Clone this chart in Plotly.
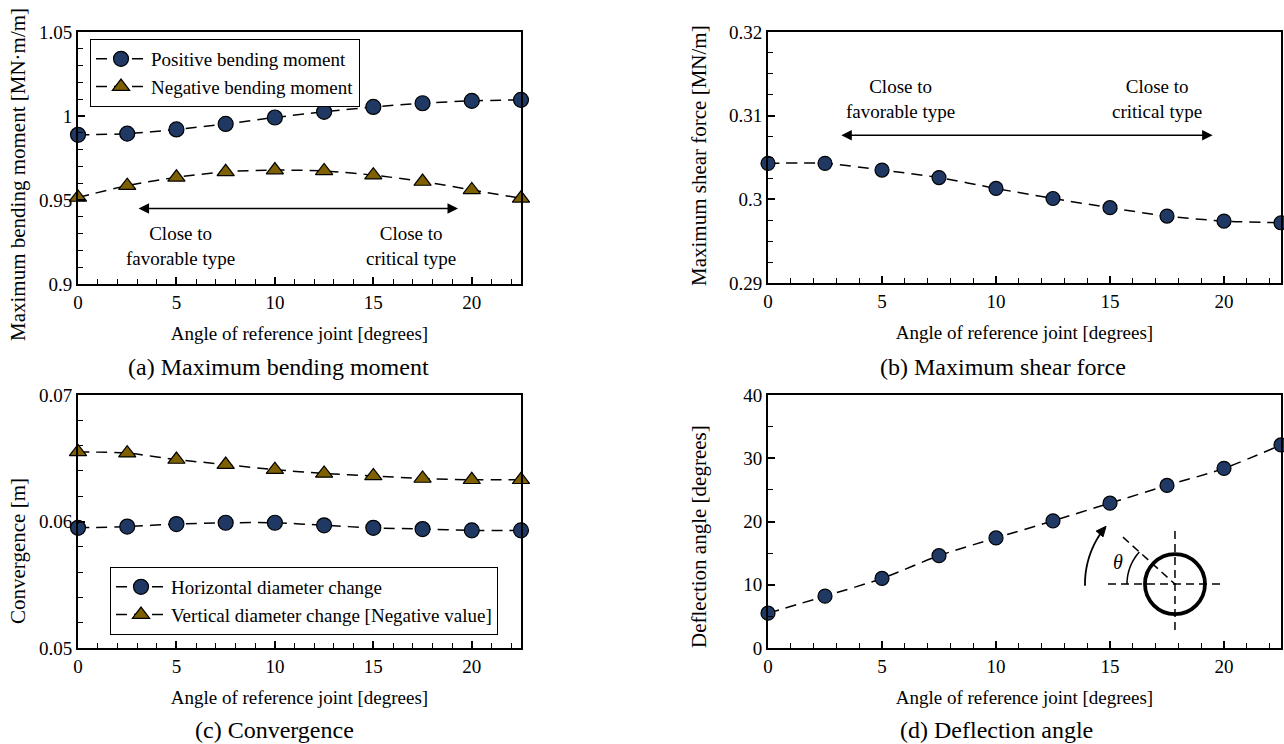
import numpy as np
import plotly.graph_objects as go

# ---------------- data ----------------
angles = [0, 2.5, 5, 7.5, 10, 12.5, 15, 17.5, 20, 22.5]
pos_moment = [0.9888, 0.9895, 0.9920, 0.9953, 0.9991, 1.0025, 1.0054, 1.0076, 1.0090, 1.0096]
neg_moment = [0.9515, 0.9585, 0.9635, 0.9668, 0.9678, 0.9673, 0.9648, 0.9610, 0.9560, 0.9510]
shear_force = [0.3043, 0.3043, 0.3035, 0.3026, 0.3013, 0.3001, 0.2990, 0.2980, 0.2974, 0.2972]
horiz_change = [0.0595, 0.0596, 0.0598, 0.0599, 0.0599, 0.0597, 0.0595, 0.0594, 0.0593, 0.0593]
vert_change = [0.0655, 0.0654, 0.0649, 0.0645, 0.0641, 0.0638, 0.0636, 0.0634, 0.0633, 0.0633]
deflection = [5.5, 8.2, 11.0, 14.6, 17.4, 20.1, 22.9, 25.7, 28.4, 32.1]

x_ticks = [0, 5, 10, 15, 20]
x_title = "Angle of reference joint [degrees]"

# ---------------- styling ----------------
W, H = 1284, 744
FONT = "Liberation Serif, Times New Roman, serif"
NAVY = "#1F3864"
OLIVE = "#7F6000"
LINE = dict(color="black", width=1.5, dash="11px,7px", shape="spline", smoothing=0.8)


def xdom(p0, p1):
    return [p0 / W, p1 / W]


def ydom(top, bottom):
    return [1 - bottom / H, 1 - top / H]


fig = go.Figure()


def circle_marker(size):
    return dict(symbol="circle", size=size, color=NAVY, line=dict(color="black", width=1.2))


def tri_marker(size):
    return dict(symbol="triangle-up", size=size, color=OLIVE, line=dict(color="black", width=1.2))


# (a)
fig.add_trace(go.Scatter(x=angles, y=pos_moment, mode="lines+markers", name="Positive bending moment",
                         line=LINE, marker=circle_marker(15), xaxis="x", yaxis="y", legend="legend",
                         cliponaxis=False))
fig.add_trace(go.Scatter(x=angles, y=neg_moment, mode="lines+markers", name="Negative bending moment",
                         line=LINE, marker=tri_marker(15), xaxis="x", yaxis="y", legend="legend",
                         cliponaxis=False))
# (b)
fig.add_trace(go.Scatter(x=angles, y=shear_force, mode="lines+markers", name="Shear force",
                         line=LINE, marker=circle_marker(14), xaxis="x2", yaxis="y2", showlegend=False,
                         cliponaxis=False))
# (c)
fig.add_trace(go.Scatter(x=angles, y=horiz_change, mode="lines+markers", name="Horizontal diameter change",
                         line=LINE, marker=circle_marker(15), xaxis="x3", yaxis="y3", legend="legend2",
                         cliponaxis=False))
fig.add_trace(go.Scatter(x=angles, y=vert_change, mode="lines+markers",
                         name="Vertical diameter change [Negative value]",
                         line=LINE, marker=tri_marker(15), xaxis="x3", yaxis="y3", legend="legend2",
                         cliponaxis=False))
# (d)
fig.add_trace(go.Scatter(x=angles, y=deflection, mode="lines+markers", name="Deflection angle",
                         line=LINE, marker=circle_marker(14), xaxis="x4", yaxis="y4", showlegend=False,
                         cliponaxis=False))

tickfont = dict(family=FONT, size=19, color="black")
xtitlefont = dict(family=FONT, size=19, color="black")


def xaxis(domain, anchor):
    return dict(domain=domain, anchor=anchor, range=[0, 22.5], tickvals=x_ticks,
                ticks="inside", ticklen=7, tickwidth=1.5, tickcolor="black",
                minor=dict(ticks="inside", dtick=1, tick0=0, ticklen=5, tickwidth=1.2, tickcolor="black"),
                showline=True, linewidth=2, linecolor="black", mirror=True,
                showgrid=False, zeroline=False, tickfont=tickfont,
                title=dict(text=x_title, font=xtitlefont, standoff=15), automargin=False)


def yaxis(domain, anchor, rng, dtick, minor):
    return dict(domain=domain, anchor=anchor, range=rng, dtick=dtick, tick0=rng[0],
                ticks="inside", ticklen=7, tickwidth=1.5, tickcolor="black",
                minor=dict(ticks="inside", dtick=minor, tick0=rng[0], ticklen=5, tickwidth=1.2,
                           tickcolor="black"),
                showline=True, linewidth=2, linecolor="black", mirror=True,
                showgrid=False, zeroline=False, tickfont=tickfont, automargin=False)


dom_a_x, dom_a_y = xdom(78, 521), ydom(32, 284)
dom_b_x, dom_b_y = xdom(768, 1281), ydom(32, 283)
dom_c_x, dom_c_y = xdom(78, 521), ydom(395, 648)
dom_d_x, dom_d_y = xdom(768, 1281), ydom(395, 648)

fig.update_layout(
    xaxis=xaxis(dom_a_x, "y"),
    yaxis=yaxis(dom_a_y, "x", [0.9, 1.05], 0.05, 0.01),
    xaxis2=xaxis(dom_b_x, "y2"),
    yaxis2=yaxis(dom_b_y, "x2", [0.29, 0.32], 0.01, 0.0025),
    xaxis3=xaxis(dom_c_x, "y3"),
    yaxis3=yaxis(dom_c_y, "x3", [0.05, 0.07], 0.01, 0.002),
    xaxis4=xaxis(dom_d_x, "y4"),
    yaxis4=yaxis(dom_d_y, "x4", [0, 40], 10, 5),
)

legend_style = dict(bgcolor="white", bordercolor="black", borderwidth=1,
                    font=dict(family=FONT, size=19, color="black"),
                    xanchor="left", yanchor="top", tracegroupgap=0, itemwidth=50)
fig.update_layout(
    legend=dict(x=90 / W, y=1 - 39 / H, **legend_style),
    legend2=dict(x=110 / W, y=1 - 567 / H, **legend_style),
)

ann_font = dict(family=FONT, size=19, color="black")
annotations = []

# y-axis titles
for text, xpix, ypix in [("Maximum bending moment [MN·m/m]", 18, 175),
                         ("Maximum shear force [MN/m]", 699, 156),
                         ("Convergence [m]", 18, 551),
                         ("Deflection angle [degrees]", 699, 537)]:
    annotations.append(dict(text=text, x=xpix / W, y=1 - ypix / H, xref="paper", yref="paper",
                            textangle=-90, showarrow=False, xanchor="center", yanchor="middle",
                            font=dict(family=FONT, size=21, color="black")))

# captions
for text, xpix, ypix in [("(a) Maximum bending moment", 278, 367),
                         ("(b) Maximum shear force", 1003, 367),
                         ("(c) Convergence", 274, 730),
                         ("(d) Deflection angle", 997, 730)]:
    annotations.append(dict(text=text, x=xpix / W, y=1 - ypix / H, xref="paper", yref="paper",
                            showarrow=False, font=dict(family=FONT, size=24, color="black"),
                            xanchor="center", yanchor="middle"))

# panel (a) notes
annotations += [
    dict(text="Close to<br>favorable type", x=5.2, y=0.9225, xref="x", yref="y", showarrow=False,
         font=ann_font, align="center"),
    dict(text="Close to<br>critical type", x=16.9, y=0.9225, xref="x", yref="y", showarrow=False,
         font=ann_font, align="center"),
    dict(text="", x=19.3, y=0.945, ax=3.0, ay=0.945, xref="x", yref="y", axref="x", ayref="y",
         showarrow=True, arrowhead=2, startarrowhead=2, arrowside="end+start", arrowsize=1.4,
         startarrowsize=1.4, arrowwidth=1.5, arrowcolor="black"),
]
# panel (b) notes
annotations += [
    dict(text="Close to<br>favorable type", x=5.8, y=0.3120, xref="x2", yref="y2", showarrow=False,
         font=ann_font, align="center"),
    dict(text="Close to<br>critical type", x=17.05, y=0.3120, xref="x2", yref="y2", showarrow=False,
         font=ann_font, align="center"),
    dict(text="", x=19.5, y=0.30765, ax=3.15, ay=0.30765, xref="x2", yref="y2", axref="x2", ayref="y2",
         showarrow=True, arrowhead=2, startarrowhead=2, arrowside="end+start", arrowsize=1.4,
         startarrowsize=1.4, arrowwidth=1.5, arrowcolor="black"),
]

# panel (d) inset: ring with axes, angle theta and rotation arrow
cx, cy = 17.85, 10.1
annotations.append(dict(text="<i>θ</i>", x=cx, y=cy, xref="x4", yref="y4", xshift=-57, yshift=22,
                        showarrow=False, font=dict(family=FONT, size=20, color="black")))
fig.update_layout(annotations=annotations)


def pix_path(points):
    return "M" + " L".join(f"{px:.2f},{py:.2f}" for px, py in points)


def arc(r, a0, a1, n=30):
    t = np.radians(np.linspace(a0, a1, n))
    return list(zip(r * np.cos(t), r * np.sin(t)))


inset = dict(xref="x4", yref="y4", xsizemode="pixel", ysizemode="pixel", xanchor=cx, yanchor=cy)
shapes = [
    dict(type="circle", x0=-30, x1=30, y0=-30, y1=30, line=dict(color="black", width=3.8), **inset),
    dict(type="line", x0=-67, x1=48, y0=0, y1=0, line=dict(color="black", width=1.5, dash="8px,5px"), **inset),
    dict(type="line", x0=0, x1=0, y0=53, y1=-46, line=dict(color="black", width=1.5, dash="8px,5px"), **inset),
    dict(type="line", x0=-52, x1=0, y0=47, y1=0, line=dict(color="black", width=1.5, dash="8px,5px"), **inset),
    dict(type="path", path=pix_path(arc(48, 180, 138)), line=dict(color="black", width=1.5), **inset),
    dict(type="path", path=pix_path(arc(90, 181, 144)), line=dict(color="black", width=1.8), **inset),
]
# arrowhead at end of rotation arrow
tip_ang = np.radians(140)
tip = np.array([90 * np.cos(tip_ang), 90 * np.sin(tip_ang)])
direction = np.array([np.sin(tip_ang), -np.cos(tip_ang)])
normal = np.array([-direction[1], direction[0]])
base = tip - 10 * direction
head = [tuple(tip), tuple(base + 4.5 * normal), tuple(base - 4.5 * normal)]
shapes.append(dict(type="path", path=pix_path(head) + " Z", fillcolor="black",
                   line=dict(color="black", width=1), **inset))
fig.update_layout(shapes=shapes)

fig.update_layout(width=W, height=H, autosize=False, margin=dict(l=0, r=0, t=0, b=0),
                  paper_bgcolor="white", plot_bgcolor="white",
                  font=dict(family=FONT, size=19, color="black"))

fig.write_html("out.html", config={"displayModeBar": False},
               post_script="document.body.style.margin='0';document.body.style.overflow='hidden';")
